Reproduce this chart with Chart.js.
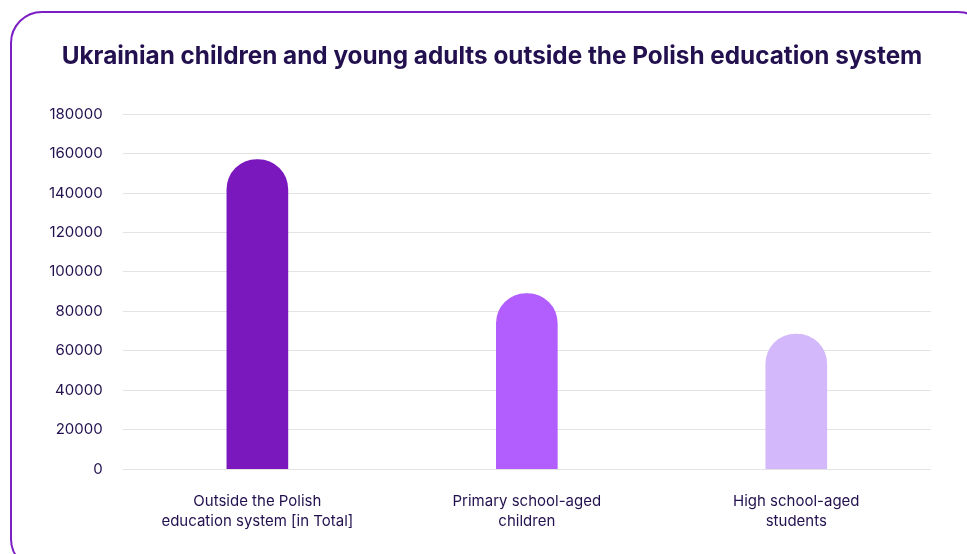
<!DOCTYPE html>
<html>
<head>
<meta charset="utf-8">
<script src="https://cdn.jsdelivr.net/npm/chart.js@4"></script>
<style>
  html, body { margin: 0; padding: 0; background: #fff; }
  #frame {
    position: absolute; left: 10px; top: 11px; width: 980px; height: 560px;
    border: 2.5px solid #7b1fc4; border-radius: 32px; box-sizing: border-box;
  }
  #wrap { position: absolute; left: 0; top: 0; width: 967px; height: 554px; }
</style>
</head>
<body>
<div id="frame"></div>
<div id="wrap"><canvas id="barUkraina" width="967" height="554"></canvas></div>
<script>
const categorias = [
    ["Outside the Polish", "education system [in Total]"],
    ["Primary school-aged", "children"],
    ["High school-aged", "students"]
];
const valores = [157000, 89000, 68500];
const colores = ["#7a17bd", "#b25dfd", "#d4b8fc"];

const tinta = "#22104f";

// the title sits a bit right of the plot's centre in the original
const moverTitulo = {
    id: 'moverTitulo',
    afterLayout(chart) {
        const t = chart.titleBlock;
        if (t) { t.left += 12; t.right += 12; }
    }
};

const barUkraina = new Chart('barUkraina', {
    type: 'bar',
    data: {
        labels: categorias,
        datasets: [{
            data: valores,
            backgroundColor: colores,
            borderRadius: { topLeft: 30, topRight: 30, bottomLeft: 0, bottomRight: 0 },
            borderSkipped: false,
            barThickness: 61
        }]
    },
    options: {
        responsive: false,
        animation: false,
        layout: { padding: { left: 29, right: 36, top: 42, bottom: 9 } },
        plugins: {
            legend: { display: false },
            tooltip: { enabled: false },
            title: {
                display: true,
                text: "Ukrainian children and young adults outside the Polish education system",
                color: tinta,
                font: { family: "Inter", size: 24.3, weight: 'bold' },
                padding: { top: 0, bottom: 43 }
            }
        },
        scales: {
            x: {
                grid: { display: false },
                border: { display: false },
                ticks: {
                    color: tinta,
                    font: { family: "Inter", size: 15, lineHeight: 1.33 },
                    padding: 14,
                    maxRotation: 0
                }
            },
            y: {
                min: 0,
                max: 180000,
                ticks: {
                    stepSize: 20000,
                    color: tinta,
                    font: { family: "Inter", size: 15 },
                    padding: 20,
                    callback: (v) => String(v)
                },
                grid: { color: "#e3e3e3", drawTicks: false },
                border: { display: false }
            }
        }
    },
    plugins: [moverTitulo]
});
</script>
</body>
</html>
